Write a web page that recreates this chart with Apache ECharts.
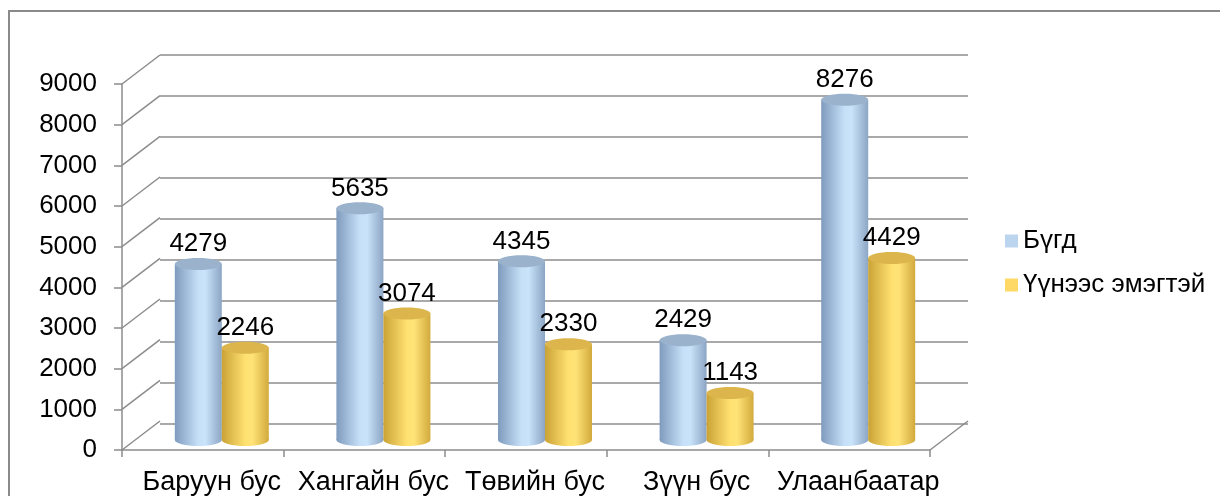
<!DOCTYPE html>
<html>
<head>
<meta charset="utf-8">
<script src="https://cdn.jsdelivr.net/npm/echarts@6/dist/echarts.min.js"></script>
<style>
  html, body { margin: 0; padding: 0; background: #fff; }
  #chart { width: 1220px; height: 496px; }
</style>
</head>
<body>
<div id="chart"></div>
<script>
  // data
  const categories = ['Баруун бус', 'Хангайн бус', 'Төвийн бус', 'Зүүн бус', 'Улаанбаатар']
  const totalName = 'Бүгд'
  const femaleName = 'Үүнээс эмэгтэй'
  const totalValues = [4279, 5635, 4345, 2429, 8276]
  const femaleValues = [2246, 3074, 2330, 1143, 4429]
  const yTicks = [0, 1000, 2000, 3000, 4000, 5000, 6000, 7000, 8000, 9000]

  const font = 'Liberation Sans, Arial, sans-serif'
  const gridColor = '#8c8c8c'
  // perspective shift between front edge and back wall
  const depthX = 38
  const depthY = -29

  const blueBody = new echarts.graphic.LinearGradient(0, 0, 1, 0, [
    { offset: 0, color: '#7f9bbd' },
    { offset: 0.5, color: '#c6e0f8' },
    { offset: 0.65, color: '#c9e3fa' },
    { offset: 1, color: '#8ba5c4' },
  ])
  const yellowBody = new echarts.graphic.LinearGradient(0, 0, 1, 0, [
    { offset: 0, color: '#caa236' },
    { offset: 0.5, color: '#ffe170' },
    { offset: 0.65, color: '#ffe377' },
    { offset: 1, color: '#d2aa3d' },
  ])

  function cylinder(shift, body, topColor) {
    return function (params, api) {
      const cat = api.value(0)
      const val = api.value(1)
      const top = api.coord([cat, val])
      const base = api.coord([cat, 0])
      const w = 47
      const ry = 6
      const x0 = top[0] + shift * w
      const cx = x0 + w / 2
      return {
        type: 'group',
        children: [
          {
            type: 'ellipse',
            shape: { cx: cx, cy: base[1], rx: w / 2, ry: ry },
            style: { fill: body },
          },
          {
            type: 'rect',
            shape: { x: x0, y: top[1], width: w, height: base[1] - top[1] },
            style: { fill: body },
          },
          {
            type: 'ellipse',
            shape: { cx: cx, cy: top[1], rx: w / 2, ry: ry },
            style: { fill: topColor },
          },
          {
            type: 'text',
            style: {
              text: String(val),
              x: cx,
              y: top[1] - ry - 1,
              align: 'center',
              verticalAlign: 'bottom',
              font: '26px ' + font,
              fill: '#000',
            },
          },
        ],
      }
    }
  }

  let chartDom = echarts.init(document.getElementById('chart'))
  let option = {
    animation: false,
    graphic: [
      {
        type: 'rect',
        shape: { x: 9, y: 11, width: 1400, height: 700 },
        style: { fill: 'none', stroke: '#8a8a8a', lineWidth: 2 },
        silent: true,
      },
    ],
    legend: {
      orient: 'vertical',
      left: 1000,
      top: 223,
      itemWidth: 13,
      itemHeight: 13,
      itemGap: 18,
      icon: 'rect',
      textStyle: { fontFamily: font, fontSize: 26, color: '#000' },
      data: [totalName, femaleName],
    },
    grid: [
      // front edge: axes and labels
      { left: 122, right: 290, top: 84, bottom: 43 },
      // back wall: gridlines
      { left: 122 + depthX, right: 290 - depthX, top: 84 + depthY, bottom: 43 - depthY },
      // middle plane: cylinders
      { left: 141, right: 271, top: 70, bottom: 56 },
    ],
    xAxis: [
      {
        gridIndex: 0,
        type: 'category',
        data: categories,
        axisLine: { show: true, lineStyle: { color: gridColor, width: 1.5 } },
        axisTick: { show: true, length: 7, lineStyle: { color: gridColor, width: 1.5 } },
        axisLabel: {
          color: '#000',
          fontFamily: font,
          fontSize: 27,
          margin: 19,
          interval: 0,
          padding: [0, 0, 0, 18],
        },
      },
      { gridIndex: 1, type: 'value', min: 0, max: 1, show: false },
      { gridIndex: 2, type: 'category', data: categories, show: false },
    ],
    yAxis: [
      {
        gridIndex: 0,
        type: 'value',
        min: 0,
        max: 9000,
        interval: 1000,
        axisLine: { show: true, lineStyle: { color: gridColor, width: 1.5 } },
        axisTick: { show: true, length: 8, lineStyle: { color: gridColor, width: 1.5 } },
        axisLabel: {
          color: '#000',
          fontFamily: font,
          fontSize: 26,
          margin: 25,
          padding: [3, 0, 0, 0],
          formatter: (v) => String(v),
        },
        splitLine: { show: false },
      },
      {
        gridIndex: 1,
        type: 'value',
        min: 0,
        max: 9000,
        interval: 1000,
        axisLine: { show: false },
        axisTick: { show: false },
        axisLabel: { show: false },
        splitLine: { show: true, lineStyle: { color: gridColor, width: 1.5 } },
      },
      { gridIndex: 2, type: 'value', min: 0, max: 9000, show: false },
    ],
    series: [
      {
        // diagonal lines joining front ticks to the back wall
        type: 'custom',
        xAxisIndex: 0,
        yAxisIndex: 0,
        silent: true,
        data: yTicks.map((v) => [0, v]),
        renderItem: function (params, api) {
          const cs = params.coordSys
          const y = api.coord([0, api.value(1)])[1]
          const lines = [
            {
              type: 'line',
              shape: { x1: cs.x, y1: y, x2: cs.x + depthX, y2: y + depthY },
              style: { stroke: gridColor, lineWidth: 1.5 },
            },
          ]
          if (api.value(1) === 0) {
            lines.push({
              type: 'line',
              shape: { x1: cs.x + cs.width, y1: y, x2: cs.x + cs.width + depthX, y2: y + depthY },
              style: { stroke: gridColor, lineWidth: 1.5 },
            })
          }
          return { type: 'group', children: lines }
        },
      },
      {
        name: totalName,
        type: 'custom',
        xAxisIndex: 2,
        yAxisIndex: 2,
        itemStyle: { color: '#bcd5ee' },
        data: totalValues.map((v, i) => [i, v]),
        renderItem: cylinder(-1, blueBody, '#9bb2cd'),
      },
      {
        name: femaleName,
        type: 'custom',
        xAxisIndex: 2,
        yAxisIndex: 2,
        itemStyle: { color: '#ffd966' },
        data: femaleValues.map((v, i) => [i, v]),
        renderItem: cylinder(0, yellowBody, '#dcb64c'),
      },
    ],
  }
  chartDom.setOption(option)
</script>
</body>
</html>
